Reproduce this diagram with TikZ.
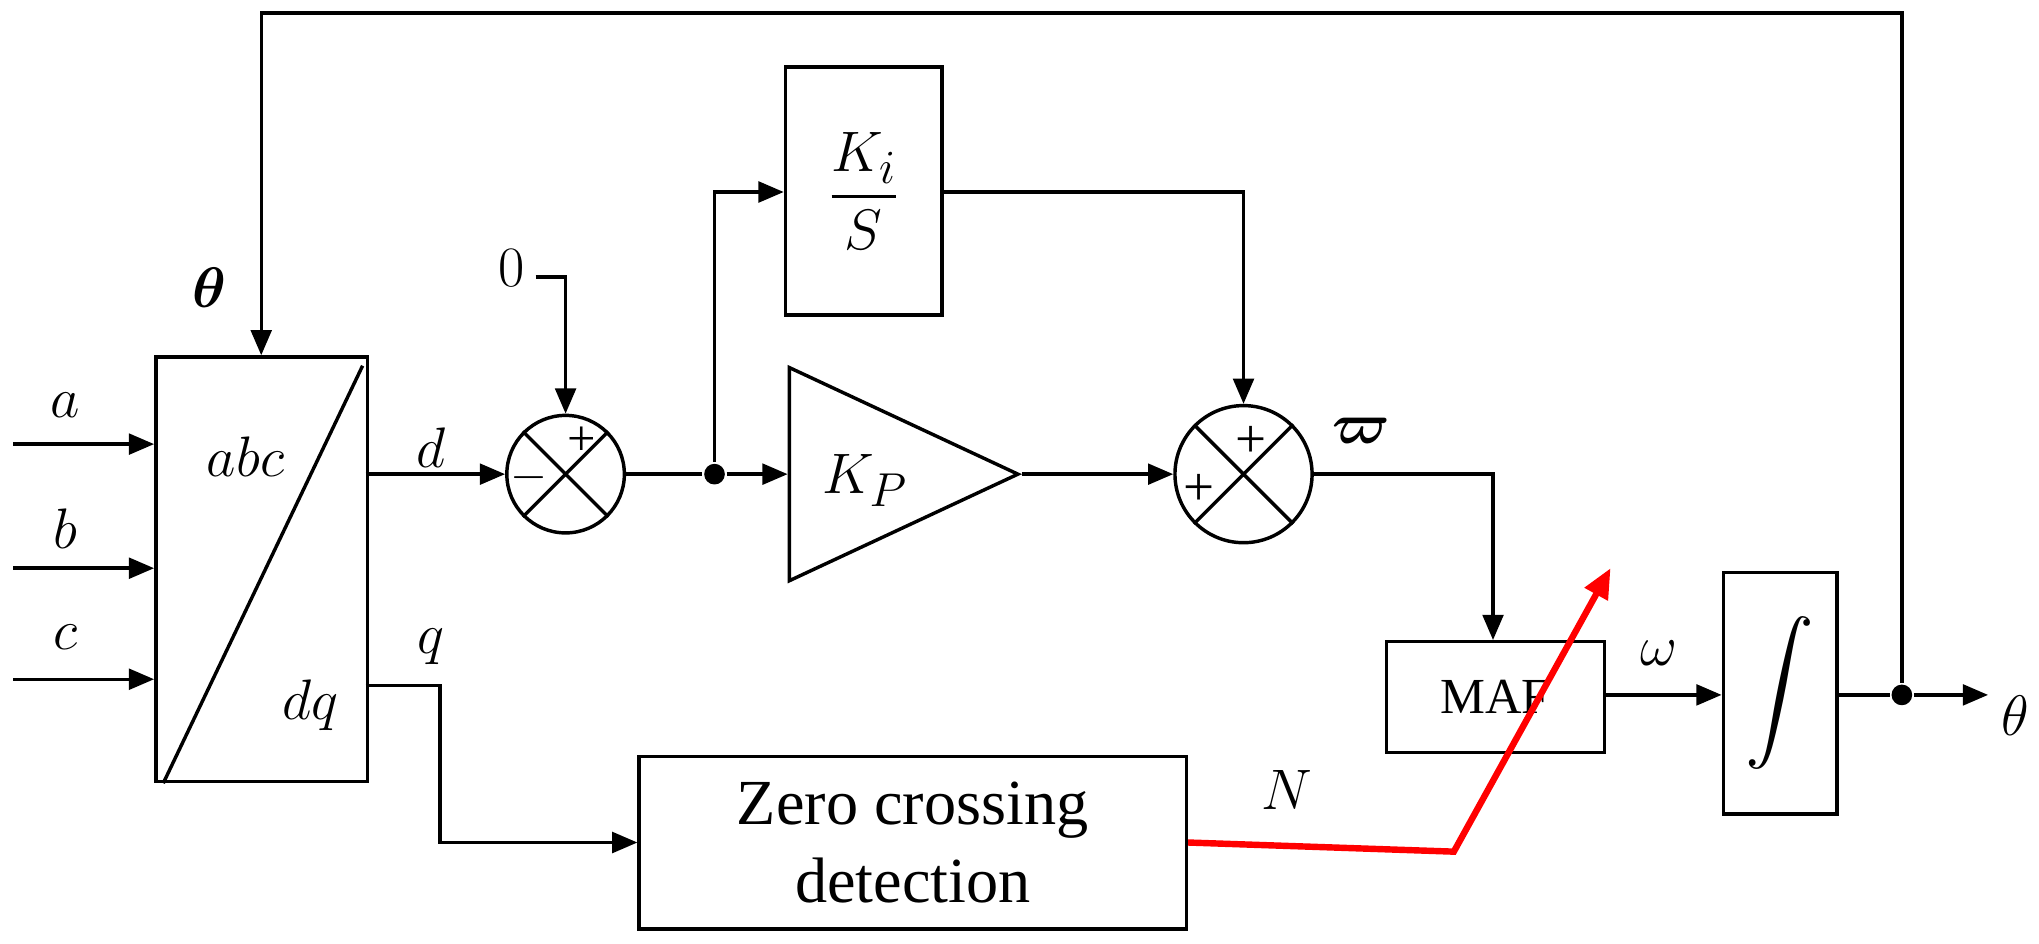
\documentclass[tikz,border=0pt]{standalone}
\usepackage{fontspec}
\setmainfont{Liberation Serif}
\usepackage{amsmath,amssymb,bm}
\usetikzlibrary{arrows.meta,shapes.geometric,calc}
\begin{document}
\begin{tikzpicture}[x=0.02cm,y=-0.02cm,line width=1.5pt,
  arr/.style={-{Triangle[length=11pt,width=9pt]}},
  blk/.style={draw,line width=1.5pt,inner sep=0pt},
  lbl/.style={font=\fontsize{32}{36}\selectfont},
  dot/.style={circle,fill,inner sep=0pt,minimum size=9pt}]
\useasboundingbox (0,0) rectangle (1561,722);
% abc/dq
\node[blk,minimum width=3.24cm,minimum height=6.5cm,anchor=north west] (T) at (118,272) {};
\draw ($(T.south west)+(7,0)$) -- ($(T.north east)+(-5,8)$);
\node[lbl] at (188,350) {$abc$};
\node[lbl] at (238,540) {$dq$};
% inputs
\coordinate (ia) at (10,340); \coordinate (ib) at (10,435); \coordinate (ic) at (10,520);
\draw[arr] (ia) -- (ia-|T.west);
\draw[arr] (ib) -- (ib-|T.west);
\draw[arr] (ic) -- (ic-|T.west);
\node[lbl] at (50,310) {$a$}; \node[lbl] at (50,405) {$b$}; \node[lbl] at (50,488) {$c$};
% sum1
\node[draw,circle,minimum size=1.8cm,inner sep=0pt] (S1) at (433,363) {};
\draw (S1.north west)--(S1.south east) (S1.north east)--(S1.south west);
\node[font=\fontsize{22}{26}\selectfont] at (445,338) {+};
\node[font=\fontsize{22}{26}\selectfont] at (405,366) {$-$};
\coordinate (z0) at (410,212);
\node[lbl] at (392,205) {$0$};
\draw[arr] (z0) -- (433,212) -- (S1.north);
\draw[arr] (280,363) -- (S1.west);
\node[lbl] at (330,343) {$d$};
% dot and branches
\node[dot] (D1) at (547,363) {};
\draw (S1.east) -- (D1);
\node[blk,minimum width=2.4cm,minimum height=3.8cm,anchor=north west] (KI) at (600,50) {};
\node[lbl] at (KI.center) {$\dfrac{K_i}{S}$};
\node[draw,isosceles triangle,isosceles triangle apex angle=50,minimum height=3.5cm,inner sep=0pt,anchor=west,line width=1.5pt] (KP) at (603,363) {};
\node[lbl] at (662,368) {$K_P$};
\draw[arr] (D1) -- (KP.west);
\draw[arr] (D1) -- (547,147) -- (KI.west|-0,147);
% sum2
\node[draw,circle,minimum size=2.1cm,inner sep=0pt] (S2) at (952,363) {};
\draw (S2.north west)--(S2.south east) (S2.north east)--(S2.south west);
\node[font=\fontsize{24}{28}\selectfont] at (958,338) {+};
\node[font=\fontsize{24}{28}\selectfont] at (918,375) {+};
\draw[arr] (KP.apex) -- (S2.west);
\draw[arr] (KI.east|-0,147) -- (952,147) -- (S2.north);
% MAF
\node[blk,minimum width=3.34cm,minimum height=1.7cm,anchor=north west,font=\fontsize{22}{26}\selectfont] (MAF) at (1060,490) {MAF};
\draw[arr] (S2.east) -- (1143,363) -- (1143,490);
\node[lbl] at (1042,330) {$\bm{\varpi}$};
% integrator
\node[blk,minimum width=1.74cm,minimum height=3.7cm,anchor=north west] (INT) at (1318,437) {};
\node[font=\fontsize{30}{34}\selectfont] at (INT.center) {$\displaystyle\int$};
\draw[arr] (MAF.east|-0,532) -- (INT.west|-0,532);
\node[lbl] at (1270,500) {$\omega$};
\node[dot] (D2) at (1456,532) {};
\coordinate (out) at (1522,532);
\draw (INT.east|-0,532) -- (D2);
\draw[arr] (D2) -- (out);
\node[lbl] at (1543,548) {$\theta$};
% feedback
\draw[arr] (D2) -- (1456,10) -- (200,10) -- (200,272);
\node[lbl] at (160,220) {$\bm{\theta}$};
% ZCD
\node[blk,minimum width=8.38cm,minimum height=2.64cm,anchor=north west,align=center,font=\fontsize{28}{34}\selectfont] (Z) at (488,578) {Zero crossing\\detection};
\draw[arr] (280,525) -- (337,525) -- (337,645) -- (Z.west|-0,645);
\node[lbl] at (330,495) {$q$};
% red
\coordinate (r1) at (1113,652); \coordinate (r2) at (1233,435);
\draw[red,line width=2.8pt,-{Triangle[length=13pt,width=11pt]}] (Z.east|-0,645) -- (r1) -- (r2);
\node[lbl] at (985,605) {$N$};
\end{tikzpicture}
\end{document}
